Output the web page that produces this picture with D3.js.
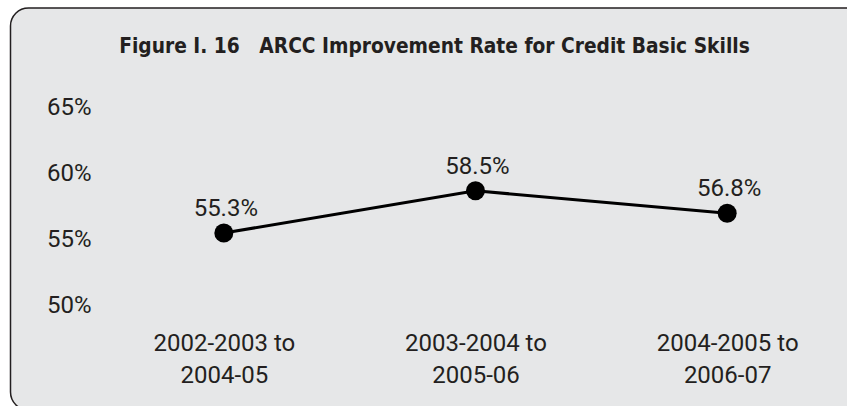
<!DOCTYPE html>
<html>
<head>
<meta charset="utf-8">
<script src="https://cdn.jsdelivr.net/npm/d3@7"></script>
<style>
  html, body { margin: 0; padding: 0; background: #ffffff; }
  svg { display: block; }
</style>
</head>
<body>
<svg id="chart" width="847" height="406"></svg>
<script>
// Chart data
const titleText = "Figure I. 16   ARCC Improvement Rate for Credit Basic Skills";
const categories = [
  ["2002-2003 to", "2004-05"],
  ["2003-2004 to", "2005-06"],
  ["2004-2005 to", "2006-07"]
];
const rates = [55.3, 58.5, 56.8];
const yTicks = [50, 55, 60, 65];

const W = 847, H = 406;
const ink = "#231f20";
const bodyFont = "Roboto, 'Liberation Sans', sans-serif";

const svg = d3.select("#chart");

// Panel: grey rounded box that runs off the right and bottom edges
svg.append("rect")
  .attr("x", 10.5).attr("y", 8)
  .attr("width", 900).attr("height", 402)
  .attr("rx", 18).attr("ry", 18)
  .attr("fill", "#e6e7e8")
  .attr("stroke", ink)
  .attr("stroke-width", 1.5);

// Title: bold, horizontally condensed to span its slot
const titleG = svg.append("g");
const title = titleG.append("text")
  .attr("x", 0).attr("y", 0)
  .attr("text-anchor", "middle")
  .style("white-space", "pre")
  .attr("xml:space", "preserve")
  .attr("font-family", "'DejaVu Sans', 'Liberation Sans', sans-serif")
  .attr("font-weight", "bold")
  .attr("font-size", 22)
  .attr("fill", ink)
  .text(titleText);
const tw = title.node().getComputedTextLength();
titleG.attr("transform", `translate(434.5,53) scale(${631 / tw},1)`);

// Scales
const x = d3.scalePoint()
  .domain(d3.range(categories.length))
  .range([98, 853])
  .padding(0.5);
const y = d3.scaleLinear().domain([50, 65]).range([303, 105]);

// Y axis: labels only
const yAxis = d3.axisLeft(y)
  .tickValues(yTicks)
  .tickFormat(d => d + "%")
  .tickSize(0)
  .tickPadding(0);
const yg = svg.append("g").attr("transform", "translate(47,0)").call(yAxis);
yg.select(".domain").remove();
yg.selectAll("text")
  .attr("text-anchor", "start")
  .attr("x", 0)
  .attr("dy", "0.4em")
  .attr("font-family", bodyFont)
  .attr("font-size", 24)
  .attr("fill", ink);

// X axis: two-line category labels
const xAxis = d3.axisBottom(x).tickSize(0).tickFormat(() => "");
const xg = svg.append("g").attr("transform", "translate(0,351)").call(xAxis);
xg.select(".domain").remove();
xg.selectAll(".tick text").remove();
xg.selectAll(".tick").each(function(d) {
  const t = d3.select(this).append("text")
    .attr("text-anchor", "middle")
    .attr("font-family", bodyFont)
    .attr("font-size", 24)
    .attr("fill", ink);
  categories[d].forEach((line, i) => {
    t.append("tspan").attr("x", 0).attr("y", i * 32).text(line);
  });
});

// Line
const line = d3.line()
  .x((d, i) => x(i))
  .y(d => y(d));
svg.append("path")
  .datum(rates)
  .attr("d", line)
  .attr("fill", "none")
  .attr("stroke", "#000")
  .attr("stroke-width", 3);

// Markers
svg.selectAll("circle.pt")
  .data(rates)
  .join("circle")
  .attr("class", "pt")
  .attr("cx", (d, i) => x(i))
  .attr("cy", d => y(d))
  .attr("r", 9.5)
  .attr("fill", "#000");

// Value labels
svg.selectAll("text.val")
  .data(rates)
  .join("text")
  .attr("class", "val")
  .attr("x", (d, i) => x(i) + 2)
  .attr("y", d => y(d) - 17)
  .attr("text-anchor", "middle")
  .attr("font-family", bodyFont)
  .attr("font-size", 24)
  .attr("fill", ink)
  .text(d => d.toFixed(1) + "%");
</script>
</body>
</html>
